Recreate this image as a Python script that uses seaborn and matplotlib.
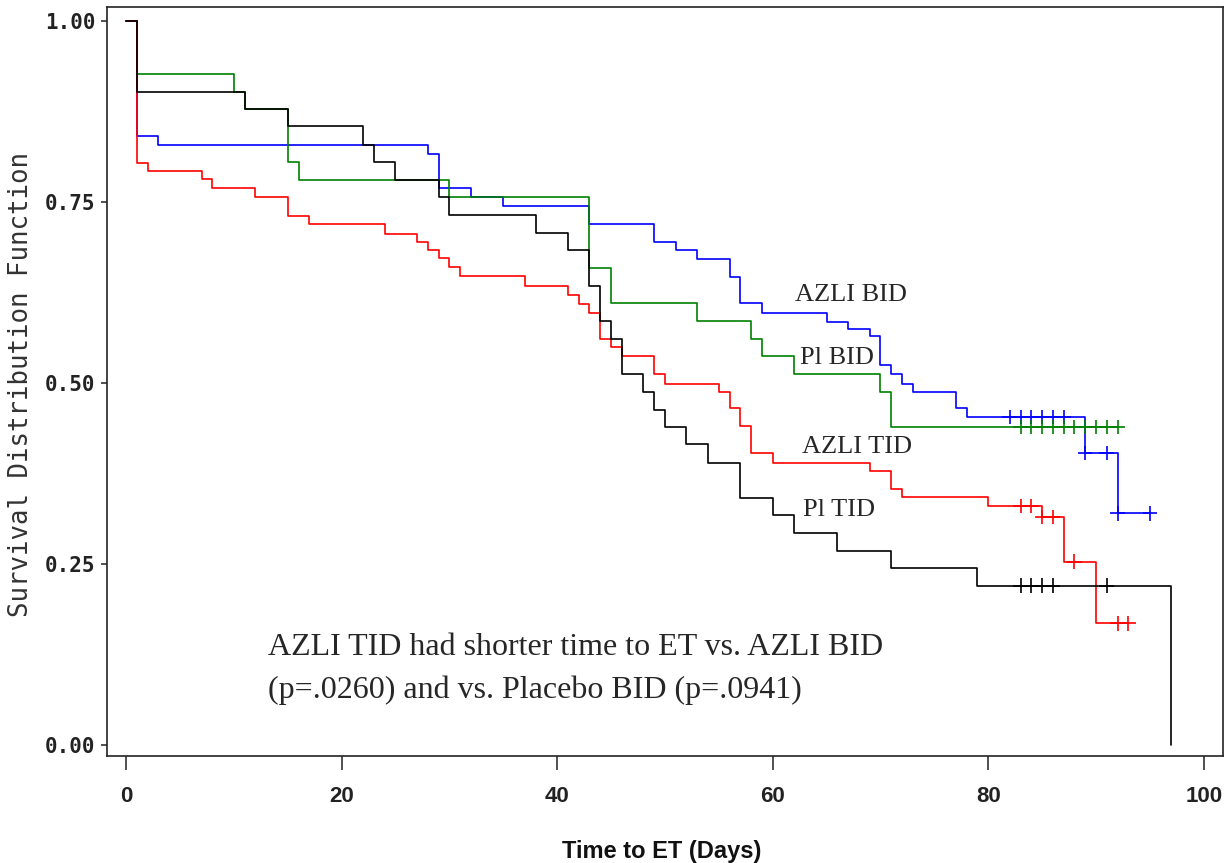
import numpy as np
import pandas as pd
import matplotlib
matplotlib.use('Agg')
import matplotlib.pyplot as plt
import seaborn as sns

# --- values (Kaplan-Meier style step curves) ---
GROUPS = ['AZLI BID', 'Pl BID', 'AZLI TID', 'Pl TID']
COLORS = ['#0000ff', '#008000', '#ff0000', '#000000']

# AZLI BID (blue)
azli_bid_t = [1, 3, 28, 29, 32, 35, 43, 49, 51, 53, 56, 57, 59, 65, 67, 69, 70, 71, 72,
              73, 77, 78, 89, 92]
azli_bid_s = [0.841, 0.828, 0.816, 0.769, 0.756, 0.744, 0.719, 0.694, 0.684, 0.671, 0.646,
              0.610, 0.597, 0.584, 0.574, 0.565, 0.525, 0.512, 0.499, 0.487, 0.465, 0.453,
              0.403, 0.320]
azli_bid_cens = [82, 83, 84, 85, 86, 87, 89, 91, 92, 95]

# Placebo BID (green)
pl_bid_t = [1, 10, 11, 15, 16, 30, 43, 45, 53, 58, 59, 62, 70, 71]
pl_bid_s = [0.927, 0.902, 0.878, 0.805, 0.780, 0.756, 0.659, 0.610, 0.585, 0.561, 0.537,
            0.512, 0.488, 0.439]
pl_bid_cens = [83, 84, 85, 86, 87, 88, 89, 90, 91, 92]

# AZLI TID (red)
azli_tid_t = [1, 2, 7, 8, 12, 15, 17, 24, 27, 28, 29, 30, 31, 37, 41, 42, 43, 44, 45, 46,
              49, 50, 55, 56, 57, 58, 60, 69, 71, 72, 80, 85, 87, 90]
azli_tid_s = [0.803, 0.793, 0.781, 0.769, 0.756, 0.731, 0.719, 0.706, 0.694, 0.684, 0.672,
              0.660, 0.647, 0.634, 0.621, 0.609, 0.596, 0.561, 0.549, 0.537, 0.512, 0.499,
              0.487, 0.465, 0.440, 0.403, 0.390, 0.378, 0.354, 0.343, 0.330, 0.315, 0.253,
              0.168]
azli_tid_cens = [83, 84, 85, 86, 88, 92, 93]

# Placebo TID (black)
pl_tid_t = [1, 11, 15, 22, 23, 25, 29, 30, 38, 41, 43, 44, 45, 46, 48, 49, 50, 52, 54, 57,
            60, 62, 66, 71, 79, 97]
pl_tid_s = [0.902, 0.878, 0.854, 0.829, 0.805, 0.780, 0.756, 0.732, 0.707, 0.683, 0.634,
            0.585, 0.561, 0.512, 0.488, 0.463, 0.439, 0.415, 0.390, 0.341, 0.317, 0.293,
            0.268, 0.244, 0.220, 0.0]
pl_tid_cens = [83, 84, 85, 86, 91]

X_TICKS = [0, 20, 40, 60, 80, 100]
Y_TICKS = [0.00, 0.25, 0.50, 0.75, 1.00]

NOTE_1 = 'AZLI TID had shorter time to ET vs. AZLI BID'
NOTE_2 = '(p=.0260) and vs. Placebo BID (p=.0941)'

series = {
    'AZLI BID': (azli_bid_t, azli_bid_s, azli_bid_cens),
    'Pl BID': (pl_bid_t, pl_bid_s, pl_bid_cens),
    'AZLI TID': (azli_tid_t, azli_tid_s, azli_tid_cens),
    'Pl TID': (pl_tid_t, pl_tid_s, pl_tid_cens),
}

# build long tables: step curves start at (0, 1) and run to last follow-up
curve_rows = []
cens_rows = []
for g, (t, s, c) in series.items():
    tt = [0] + list(t)
    ss = [1.0] + list(s)
    end = max(max(t), max(c))
    tt.append(end)
    ss.append(ss[-1])
    for a, b in zip(tt, ss):
        curve_rows.append((g, a, b))
    tt_arr = np.array(tt)
    for ct in c:
        idx = np.searchsorted(tt_arr, ct, side='right') - 1
        cens_rows.append((g, ct, ss[idx]))
curves = pd.DataFrame(curve_rows, columns=['group', 'time', 'surv'])
cens = pd.DataFrame(cens_rows, columns=['group', 'time', 'surv'])

sns.set_style('white')
plt.rcParams['font.family'] = ['DejaVu Sans']

fig, ax = plt.subplots(figsize=(12.28, 8.63), dpi=100)
fig.subplots_adjust(left=0.0874, right=0.9957, top=0.9919, bottom=0.1243)

sns.lineplot(data=curves, x='time', y='surv', hue='group', hue_order=GROUPS,
             palette=COLORS, estimator=None, sort=False, drawstyle='steps-post',
             linewidth=1.2, legend=False, ax=ax)
sns.scatterplot(data=cens, x='time', y='surv', hue='group', hue_order=GROUPS,
                palette=COLORS, marker='+', s=110, linewidth=1.2, legend=False,
                ax=ax, zorder=3)

ax.set_xlim(-1.74, 101.76)
ax.set_ylim(-0.0148, 1.019)
ax.set_xticks(X_TICKS)
ax.set_yticks(Y_TICKS)
ax.set_yticklabels([f'{v:.2f}' for v in Y_TICKS],
                   family=['DejaVu Sans Mono'], fontweight='bold', fontsize=15)
ax.set_xticklabels([str(v) for v in X_TICKS],
                   family=['Liberation Sans', 'DejaVu Sans'],
                   fontweight='bold', fontsize=16)
ax.tick_params(axis='x', bottom=True, direction='out', length=10, width=1.1, pad=12,
               colors='#222222')
ax.tick_params(axis='y', left=True, direction='out', length=4.5, width=1.1, pad=4,
               colors='#222222')
for sp in ax.spines.values():
    sp.set_visible(True)
    sp.set_color('#222222')
    sp.set_linewidth(1.2)

ax.set_xlabel('Time to ET (Days)', family=['Liberation Sans', 'DejaVu Sans'],
              fontsize=17, fontweight='bold', color='#111111')
ax.set_ylabel('Survival Distribution Function', family=['DejaVu Sans Mono'],
              fontsize=18.5, color='#333333')
ax.xaxis.set_label_coords(0.497, -0.113)
ax.yaxis.set_label_coords(-0.066, 0.496)

serif = ['Liberation Serif', 'DejaVu Serif']
ax.text(62.1, 0.621, 'AZLI BID', family=serif, fontsize=19, va='center', ha='left')
ax.text(62.5, 0.535, 'Pl BID', family=serif, fontsize=19, va='center', ha='left',
        bbox=dict(facecolor='white', edgecolor='none', pad=0.5))
ax.text(62.7, 0.411, 'AZLI TID', family=serif, fontsize=19, va='center', ha='left')
ax.text(62.85, 0.324, 'Pl TID', family=serif, fontsize=19, va='center', ha='left')
ax.text(13.2, 0.135, NOTE_1, family=serif, fontsize=23, va='center', ha='left')
ax.text(13.2, 0.076, NOTE_2, family=serif, fontsize=23, va='center', ha='left')

fig.savefig('out.png', dpi=100)
